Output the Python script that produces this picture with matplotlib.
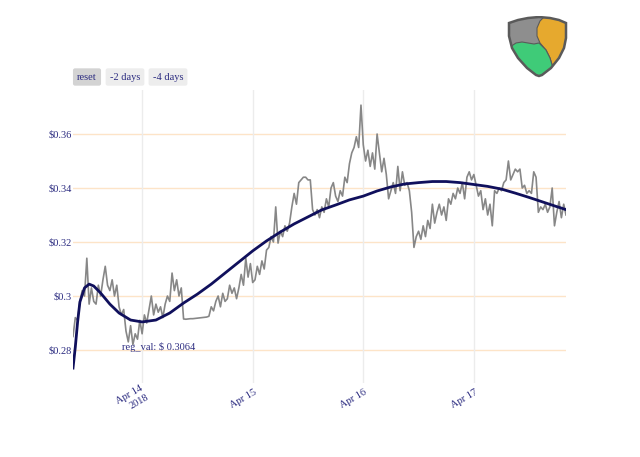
import matplotlib
matplotlib.use("Agg")
from matplotlib import pyplot as plt
from matplotlib.patches import Polygon
import matplotlib.transforms as mtransforms
import pandas as pd

# price samples every 30 min, starting 2018-04-13 09:00
start_time = "2018-04-13 09:00"
prices = [
    0.285, 0.292, 0.291, 0.298, 0.302, 0.300, 0.314, 0.297, 0.303, 0.298, 0.297, 0.304,
    0.300, 0.306, 0.311, 0.304, 0.302, 0.306, 0.300, 0.304, 0.296, 0.293, 0.295, 0.287,
    0.283, 0.289, 0.282, 0.286, 0.284, 0.291, 0.286, 0.293, 0.290, 0.295, 0.300, 0.293,
    0.297, 0.294, 0.296, 0.292, 0.297, 0.300, 0.298, 0.3085, 0.302, 0.306, 0.300, 0.303,
    0.2915, 0.2914, 0.2915, 0.2916, 0.2916, 0.2917, 0.2918, 0.2919, 0.2920, 0.2921, 0.2922, 0.2925,
    0.296, 0.2945, 0.298, 0.300, 0.296, 0.301, 0.298, 0.299, 0.304, 0.301, 0.303, 0.299,
    0.303, 0.308, 0.304, 0.314, 0.307, 0.312, 0.305, 0.306, 0.311, 0.308, 0.313, 0.310,
    0.317, 0.318, 0.322, 0.320, 0.333, 0.3196, 0.324, 0.322, 0.326, 0.324, 0.327, 0.333,
    0.338, 0.334, 0.342, 0.343, 0.344, 0.344, 0.343, 0.343, 0.332, 0.330, 0.332, 0.329,
    0.333, 0.331, 0.336, 0.333, 0.340, 0.342, 0.337, 0.335, 0.339, 0.337, 0.344, 0.342,
    0.349, 0.353, 0.355, 0.359, 0.355, 0.3707, 0.356, 0.350, 0.354, 0.348, 0.353, 0.347,
    0.360, 0.353, 0.346, 0.351, 0.345, 0.336, 0.339, 0.342, 0.338, 0.348, 0.339, 0.346,
    0.341, 0.342, 0.339, 0.331, 0.318, 0.322, 0.324, 0.321, 0.326, 0.322, 0.328, 0.325,
    0.334, 0.327, 0.331, 0.334, 0.330, 0.333, 0.328, 0.336, 0.334, 0.338, 0.336, 0.340,
    0.338, 0.342, 0.336, 0.344, 0.346, 0.343, 0.345, 0.341, 0.337, 0.339, 0.332, 0.336,
    0.330, 0.334, 0.326, 0.339, 0.338, 0.340, 0.339, 0.342, 0.343, 0.350, 0.343, 0.345,
    0.347, 0.346, 0.347, 0.340, 0.341, 0.338, 0.339, 0.338, 0.346, 0.344, 0.331, 0.333,
    0.332, 0.334, 0.331, 0.333, 0.340, 0.326, 0.331, 0.335, 0.329, 0.334, 0.330,
]

# regression curve, hours after start_time
reg_hours = [0, 0.5, 1, 1.5, 2.5, 3.5, 4.5, 6, 8, 10, 12.5, 15, 18, 21, 24, 27, 30, 33, 36,
             39, 42, 45, 48, 51, 54, 57, 60, 63, 66, 69, 72, 75, 78, 81, 84, 87, 90, 93, 96,
             99, 102, 105, 107]
reg_vals = [0.2733, 0.2811, 0.2904, 0.2978, 0.3030, 0.3044, 0.3037, 0.3011, 0.2970, 0.2937,
            0.2911, 0.2904, 0.2911, 0.2937, 0.2974, 0.3007, 0.3044, 0.3085, 0.3126,
            0.3167, 0.3204, 0.3237, 0.3267, 0.3293, 0.3319, 0.3337, 0.3356, 0.3370, 0.3389,
            0.3404, 0.3415, 0.3420, 0.3424, 0.3424, 0.3420, 0.3413, 0.3406, 0.3396, 0.3381,
            0.3365, 0.3348, 0.3331, 0.3320]

y_ticks = [0.28, 0.30, 0.32, 0.34, 0.36]
x_ticks = ["2018-04-14", "2018-04-15", "2018-04-16", "2018-04-17"]
x_tick_labels = ["Apr 14\n2018", "Apr 15", "Apr 16", "Apr 17"]
buttons = ["reset", "-2 days", "-4 days"]
reg_label_value = 0.3064

text_color = '#2b2b80'
font = 'Liberation Serif'

times = pd.date_range(start_time, periods=len(prices), freq="30min")
reg_times = pd.Timestamp(start_time) + pd.to_timedelta(reg_hours, unit="h")

fig = plt.figure(figsize=(6.4, 4.57), dpi=100)
ax = fig.add_axes([73/640, 74/457, 493/640, 293/457])

for yt in y_ticks:
    ax.axhline(yt, color='#fde4c8', lw=1, zorder=0)
for xt in x_ticks:
    ax.axvline(pd.Timestamp(xt), color='#ececec', lw=1, zorder=0)

ax.plot(times, prices, color='#878787', lw=1.2, zorder=2)
ax.plot(reg_times, reg_vals, color='#10105c', lw=2, zorder=3)

ax.set_xlim(times[0], times[-1])
ax.set_ylim(0.26778, 0.3763)

ax.set_yticks(y_ticks)
ax.set_yticklabels(['$' + ('%g' % v) for v in y_ticks])
ax.set_xticks([pd.Timestamp(t) for t in x_ticks])
ax.set_xticklabels(x_tick_labels)
ax.tick_params(length=0)
ax.tick_params(axis='y', pad=1)
ax.tick_params(axis='x', pad=6.4)
shift = mtransforms.ScaledTranslation(3/100, 0, fig.dpi_scale_trans)
for lbl in ax.get_yticklabels():
    lbl.set_fontfamily(font)
    lbl.set_fontsize(7.5)
    lbl.set_color(text_color)
for lbl in ax.get_xticklabels():
    lbl.set_fontfamily(font)
    lbl.set_fontsize(7.5)
    lbl.set_color(text_color)
    lbl.set_rotation(30)
    lbl.set_rotation_mode('anchor')
    lbl.set_ha('right')
    lbl.set_va('center')
    lbl.set_multialignment('right')
    lbl.set_linespacing(1.3)
    lbl.set_transform(lbl.get_transform() + shift)
for s in ax.spines.values():
    s.set_visible(False)

ax.text(pd.Timestamp("2018-04-14 03:40"), 0.2811, "reg_val: $ %.4f" % reg_label_value,
        ha='center', va='center', fontsize=7.5, family=font, color=text_color, zorder=4)

# range buttons
btn_x = [87, 125, 168]
for i, b in enumerate(buttons):
    fc = '#d3d3d3' if i == 0 else '#ededed'
    fig.text(btn_x[i]/640, 1 - 77/457, b, ha='center', va='center', fontsize=7.5,
             family=font, color=text_color,
             bbox=dict(boxstyle='round,pad=0.4,rounding_size=0.2', fc=fc, ec='none'))

# NEM logo
lax = fig.add_axes([506/640, 1 - 78/457, 62/640, 62/457])
lax.set_xlim(0, 62)
lax.set_ylim(0, 62)
lax.axis('off')
shield_pts = [(3, 55), (12, 58), (22, 60), (33, 61), (44, 60), (53, 58), (60, 55),
              (60, 40), (58, 30), (53, 20), (45, 10), (36, 3), (33, 2), (30, 3),
              (21, 10), (12, 20), (6, 30), (3, 42)]
shield = Polygon(shield_pts, closed=True, fc='#8e8e8e', ec='none')
lax.add_patch(shield)
orange = Polygon([(40, 63), (34, 57), (31, 50), (31, 42), (34, 35), (40, 28), (44, 20),
                  (47, 10), (47, -2), (66, -2), (66, 66)], closed=True,
                 fc='#e6a92e', ec='#5a5a5a', lw=0.8)
orange.set_clip_path(shield)
lax.add_patch(orange)
green = Polygon([(-3, 31), (4, 31), (10, 35), (16, 36), (22, 35), (28, 34), (33, 35),
                 (40, 28), (44, 20), (47, 10), (47, -2), (-3, -2)], closed=True,
                fc='#3fcb78', ec='#5a5a5a', lw=0.8)
green.set_clip_path(shield)
lax.add_patch(green)
lax.add_patch(Polygon(shield_pts, closed=True, fc='none', ec='#5a5a5a', lw=1.8))

fig.savefig("out.png", dpi=100, facecolor='white')
